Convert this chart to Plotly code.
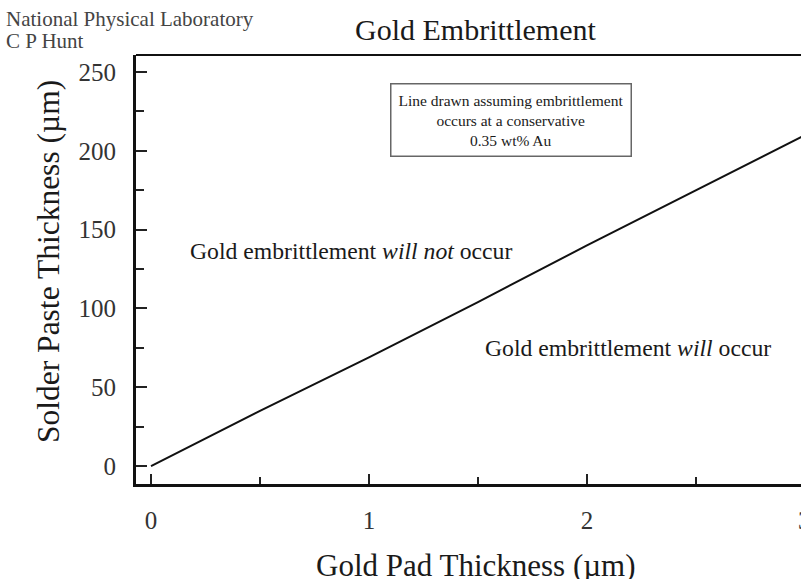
import plotly.graph_objects as go

# Data
gold_pad_um = [0, 0.5, 1, 1.5, 2, 2.5, 3]
solder_paste_um = [0, 35, 69, 104, 140, 175, 210]

x_tick_vals = [0, 1, 2, 3]
x_tick_text = ["0", "1", "2", "3"]
y_tick_vals = [0, 50, 100, 150, 200, 250]
y_tick_text = ["0", "50", "100", "150", "200", "250"]

SERIF = "Liberation Serif, Times New Roman, serif"
INK = "#1a1a1a"

W, H = 801, 579
L, R, T, B = 136, 0, 55, 95
PW, PH = W - L - R, H - T - B
X_RANGE = [-0.0688, 2.982]


def px(xp):
    return (xp - L) / PW


def py(yp):
    return 1 - (yp - T) / PH


fig = go.Figure()
fig.add_trace(go.Scatter(
    x=gold_pad_um, y=solder_paste_um, mode="lines",
    line=dict(color="#111111", width=2), showlegend=False, hoverinfo="skip",
))

fig.update_layout(
    width=W, height=H,
    margin=dict(l=L, r=R, t=T, b=B),
    paper_bgcolor="white", plot_bgcolor="white",
    font=dict(family=SERIF, color=INK),
    showlegend=False,
)

fig.update_xaxes(
    range=X_RANGE,
    tickmode="array", tickvals=x_tick_vals, ticktext=x_tick_text,
    ticks="inside", ticklen=10, tickwidth=2, tickcolor="#222",
    minor=dict(dtick=0.5, tick0=0, ticks="inside", ticklen=7, tickwidth=2, tickcolor="#222"),
    showline=True, linecolor="#111", linewidth=3, mirror=False,
    showgrid=False, zeroline=False, automargin=False,
    tickfont=dict(size=25, color="#333", family=SERIF),
    ticklabelstandoff=12,
)
fig.update_yaxes(
    range=[-11.4, 260.8],
    tickmode="array", tickvals=y_tick_vals, ticktext=y_tick_text,
    ticks="inside", ticklen=11, tickwidth=2, tickcolor="#222",
    minor=dict(dtick=25, tick0=0, ticks="inside", ticklen=8, tickwidth=2, tickcolor="#222"),
    showline=True, linecolor="#111", linewidth=3, mirror=False,
    showgrid=False, zeroline=False, automargin=False,
    tickfont=dict(size=25, color="#333", family=SERIF),
    ticklabelstandoff=12,
)

# top frame line
fig.add_shape(type="line", xref="paper", yref="paper", x0=0, x1=1, y0=1, y1=1,
              line=dict(color="#111", width=2))

# clipped last tick label at the right edge (paper position of x = 3)
last_tick_paper = (x_tick_vals[-1] - X_RANGE[0]) / (X_RANGE[1] - X_RANGE[0])
fig.add_annotation(x=last_tick_paper, xref="paper", y=py(520), yref="paper",
                   text=x_tick_text[-1], showarrow=False,
                   xanchor="center", yanchor="middle",
                   font=dict(size=25, color="#333", family=SERIF))

# Axis titles
fig.add_annotation(x=px(476), y=py(546), xref="paper", yref="paper",
                   xanchor="center", yanchor="top",
                   text="Gold Pad Thickness (µm)", showarrow=False,
                   font=dict(size=31, color=INK, family=SERIF))
fig.add_annotation(x=px(48), y=py(262), xref="paper", yref="paper",
                   xanchor="center", yanchor="middle", textangle=-90,
                   text="Solder Paste Thickness (µm)", showarrow=False,
                   font=dict(size=31.5, color=INK, family=SERIF))

# Title and header
fig.add_annotation(x=px(475), y=py(29), xref="paper", yref="paper",
                   xanchor="center", yanchor="middle",
                   text="Gold Embrittlement", showarrow=False,
                   font=dict(size=30, color=INK, family=SERIF))
fig.add_annotation(x=px(4), y=py(19), xref="paper", yref="paper",
                   xanchor="left", yanchor="middle",
                   text="National Physical Laboratory", showarrow=False,
                   font=dict(size=21, color="#444", family=SERIF))
fig.add_annotation(x=px(4), y=py(41), xref="paper", yref="paper",
                   xanchor="left", yanchor="middle",
                   text="C P Hunt", showarrow=False,
                   font=dict(size=21, color="#444", family=SERIF))

# Boxed note
fig.add_annotation(x=px(511), y=py(120), xref="paper", yref="paper",
                   xanchor="center", yanchor="middle",
                   text="Line drawn assuming embrittlement<br>occurs at a conservative<br>0.35 wt% Au",
                   showarrow=False, align="center",
                   font=dict(size=15.5, color=INK, family=SERIF),
                   bordercolor="#666", borderwidth=1.5, borderpad=7, bgcolor="white")

# Region labels
fig.add_annotation(x=px(351), y=py(251), xref="paper", yref="paper",
                   xanchor="center", yanchor="middle",
                   text="Gold embrittlement <i>will not</i> occur", showarrow=False,
                   font=dict(size=23.7, color=INK, family=SERIF))
fig.add_annotation(x=px(628), y=py(348), xref="paper", yref="paper",
                   xanchor="center", yanchor="middle",
                   text="Gold embrittlement <i>will</i> occur", showarrow=False,
                   font=dict(size=23.7, color=INK, family=SERIF))

fig.write_html(
    "out.html",
    config={"displayModeBar": False},
    post_script="document.body.style.margin='0';document.body.style.overflow='hidden';",
)
